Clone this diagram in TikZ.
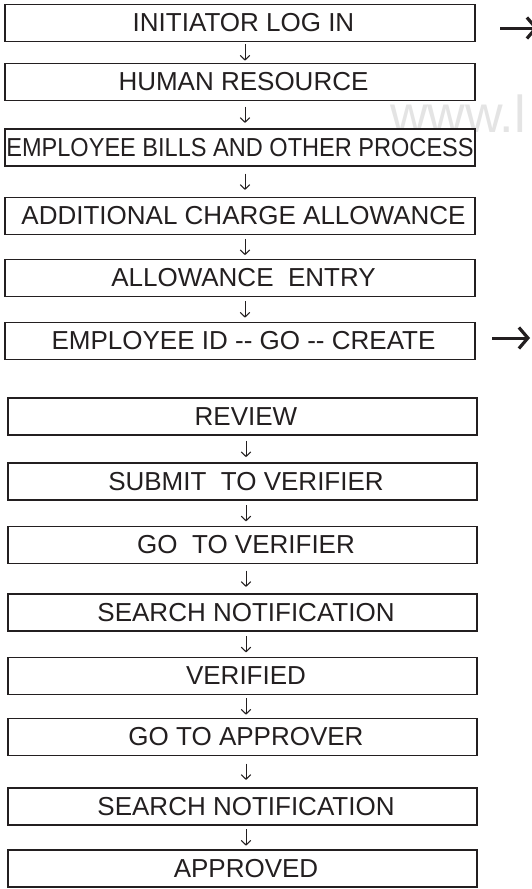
\documentclass[tikz,border=0pt]{standalone}
\usepackage{fontspec}
\setmainfont{Liberation Sans}
\usepackage{graphicx}
\usetikzlibrary{arrows.meta,calc}
\definecolor{ink}{HTML}{231F20}
\definecolor{wm}{HTML}{E4E4E4}
\tikzset{
  stepbox/.style={draw=ink, line width=1.6pt, fill=white, text=ink,
    minimum height=36.8pt, inner sep=0pt,
    font=\fontsize{26}{30}\selectfont,
    execute at begin node=\hspace*{7pt}},
  upbox/.style={stepbox, minimum width=470.4pt},
  lowbox/.style={stepbox, minimum width=469.4pt},
  dn/.style={draw=ink, line width=1pt, -{Straight Barb[length=4.5pt,width=9.5pt,line width=1.1pt]}},
  rarrow/.style={draw=ink, line width=3pt, -{Straight Barb[length=9pt,width=21pt,line width=3.2pt]}},
  wmark/.style={text=wm, font=\fontsize{52}{60}\selectfont, inner sep=0pt, anchor=base west}
}
\newcommand\flowlink[4]{\draw[dn, shorten <=#4pt, shorten >=#4pt] ([xshift=#3pt]#1.south) -- ([xshift=#3pt]#2.north);}
\begin{document}
\begin{tikzpicture}[x=1pt,y=-1pt]
\useasboundingbox (0,0) rectangle (531,889);
\fill[white] (0,0) rectangle (531,889);
% watermark
\node[wmark] (wm) at (390,132) {www.l};
% upper chain
\node[upbox] (b1) at (240,23) {INITIATOR LOG IN};
\node[upbox] (b2) at (240,82) {HUMAN RESOURCE};
\node[upbox] (b3) at (240,147.5) {\hspace*{-7pt}\scalebox{0.906}[1]{EMPLOYEE BILLS AND OTHER PROCESS}};
\node[upbox] (b4) at (240,216) {ADDITIONAL CHARGE ALLOWANCE};
\node[upbox] (b5) at (240,278) {ALLOWANCE\ \ ENTRY};
\node[upbox] (b6) at (240,341) {EMPLOYEE ID -{}- GO -{}- CREATE};
% lower chain
\node[lowbox] (b7) at (242.5,416.5) {REVIEW};
\node[lowbox] (b8) at (242.5,481.5) {SUBMIT\ \ TO VERIFIER};
\node[lowbox] (b9) at (242.5,545) {GO\ \ TO VERIFIER};
\node[lowbox] (b10) at (242.5,612.5) {SEARCH NOTIFICATION};
\node[lowbox] (b11) at (242.5,676) {VERIFIED};
\node[lowbox] (b12) at (242.5,737) {GO TO APPROVER};
\node[lowbox] (b13) at (242.5,806.5) {SEARCH NOTIFICATION};
\node[lowbox] (b14) at (242.5,868.5) {APPROVED};
% down arrows
\flowlink{b1}{b2}{5}{2.1}
\flowlink{b2}{b3}{5}{5.35}
\flowlink{b3}{b4}{5}{6.85}
\flowlink{b4}{b5}{5}{3.6}
\flowlink{b5}{b6}{5}{4.1}
\flowlink{b7}{b8}{3.5}{5.1}
\flowlink{b8}{b9}{3.5}{4.35}
\flowlink{b9}{b10}{3.5}{6.35}
\flowlink{b10}{b11}{3.5}{4.35}
\flowlink{b11}{b12}{3.5}{3.1}
\flowlink{b12}{b13}{3.5}{7.35}
\flowlink{b13}{b14}{3.5}{3.6}
% right arrows
\coordinate (e1) at (538,28);
\coordinate (e6) at (530,338);
\draw[rarrow] (b1.east |- e1) ++(24,0) -- (e1);
\draw[rarrow] (b6.east |- e6) ++(16,0) -- (e6);
\end{tikzpicture}
\end{document}
